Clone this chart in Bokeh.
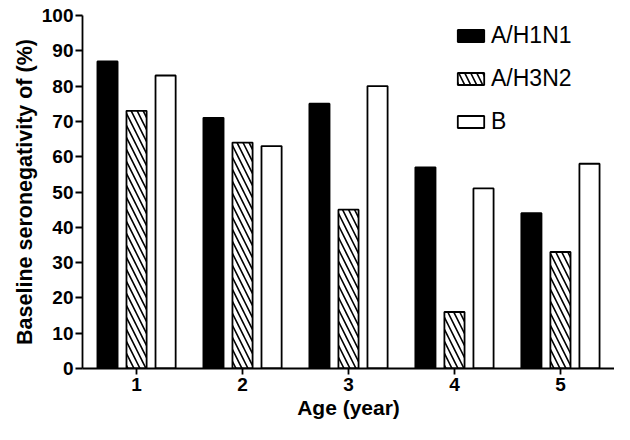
from bokeh.plotting import figure
from bokeh.models import Range1d, FixedTicker, Legend, LegendItem, Title
from bokeh.embed import file_html
from bokeh.resources import INLINE

ages = [1, 2, 3, 4, 5]
h1n1 = [87, 71, 75, 57, 44]
h3n2 = [73, 64, 45, 16, 33]
b_vals = [83, 63, 80, 51, 58]
series_names = ["A/H1N1", "A/H3N2", "B"]
y_ticks = list(range(0, 101, 10))
x_title = "Age (year)"
y_title = "Baseline seronegativity of (%)"

FONT = "Liberation Sans"
offset = 0.274
bw = 0.19

p = figure(width=614, height=424, output_backend="svg", toolbar_location=None,
           x_range=Range1d(0.49, 5.51), y_range=Range1d(0, 100),
           min_border_left=82, min_border_right=0, min_border_top=15, min_border_bottom=56)
p.outline_line_color = None
p.grid.visible = False
p.background_fill_color = "white"

r1 = p.vbar(x=[a - offset for a in ages], top=h1n1, width=bw, bottom=0,
            fill_color="black", line_color="black", line_width=1.8)
r2 = p.vbar(x=ages, top=h3n2, width=bw, bottom=0,
            fill_color="white", line_color="black", line_width=1.8,
            hatch_pattern="\\", hatch_color="black", hatch_scale=12, hatch_weight=1.6)
r3 = p.vbar(x=[a + offset for a in ages], top=b_vals, width=bw, bottom=0,
            fill_color="white", line_color="black", line_width=1.8)

for ax in (p.xaxis[0], p.yaxis[0]):
    ax.axis_line_width = 1.8
    ax.major_tick_line_width = 1.8
    ax.major_tick_in = 0
    ax.minor_tick_out = 0
    ax.minor_tick_in = 0
    ax.major_label_text_font = FONT
    ax.major_label_text_font_style = "bold"
    ax.major_label_text_color = "black"
    ax.major_label_text_font_size = "19px"
    ax.axis_label_text_font = FONT
    ax.axis_label_text_font_style = "bold"
    ax.axis_label_text_color = "black"

p.xaxis.ticker = FixedTicker(ticks=ages)
p.yaxis.ticker = FixedTicker(ticks=y_ticks)
p.xaxis.major_tick_out = 6
p.yaxis.major_tick_out = 7
p.xaxis.major_label_standoff = 3
p.yaxis.major_label_standoff = 2
p.xaxis.axis_label = x_title
p.xaxis.axis_label_text_font_size = "21px"
p.xaxis.axis_label_standoff = 2

p.add_layout(Title(text=y_title, align="center", offset=24, standoff=4,
                   text_font=FONT, text_font_style="bold", text_font_size="21.5px",
                   text_color="black"), "left")

legend = Legend(items=[LegendItem(label=series_names[0], renderers=[r1]),
                       LegendItem(label=series_names[1], renderers=[r2]),
                       LegendItem(label=series_names[2], renderers=[r3])],
                location=(372, 233), padding=0, margin=0, spacing=16,
                glyph_width=33, glyph_height=15, label_standoff=4,
                label_text_font=FONT, label_text_font_size="23px",
                label_text_color="black",
                border_line_color=None, background_fill_alpha=0)
p.add_layout(legend)

open("out.html", "w").write(file_html(p, INLINE))
